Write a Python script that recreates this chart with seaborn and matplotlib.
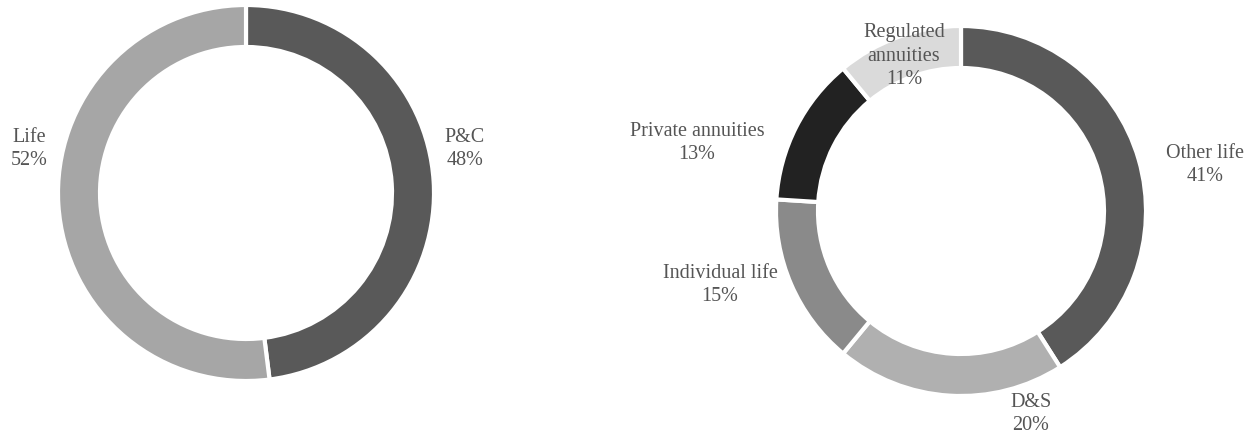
import matplotlib
matplotlib.use("Agg")
import matplotlib.pyplot as plt
import seaborn as sns

# Premium split: P&C vs Life
split_labels = ["P&C", "Life"]
split_values = [48, 52]
split_colors = ["#595959", "#a6a6a6"]

# Breakdown of the life business
life_labels = ["Other life", "D&S", "Individual life", "Private annuities", "Regulated\nannuities"]
life_values = [41, 20, 15, 13, 11]
life_colors = ["#595959", "#b0b0b0", "#8a8a8a", "#222222", "#dadada"]

sns.set_theme(style="white")
plt.rcParams["font.family"] = ["Liberation Serif", "DejaVu Serif"]

W, H = 1257, 440
fig = plt.figure(figsize=(W / 100, H / 100), dpi=100)
ax = fig.add_axes([0, 0, 1, 1])

ring = dict(width=42, edgecolor="white", linewidth=3)

ax.pie(split_values, colors=split_colors, startangle=90, counterclock=False,
       radius=188, center=(246, H - 193), wedgeprops=ring)
ax.pie(life_values, colors=life_colors, startangle=90, counterclock=False,
       radius=185, center=(961, H - 211), wedgeprops=ring)

txt = dict(ha="center", va="center", color="#555555", fontsize=14.5, linespacing=1.3)

# label anchors (x, y from top)
split_pos = [(465, 149), (29, 149)]
life_pos = [(1205, 165), (1031, 414), (720, 285), (697, 143), (904, 56)]

for lab, val, (x, y) in zip(split_labels, split_values, split_pos):
    ax.text(x, H - y, f"{lab}\n{val}%", **txt)
for lab, val, (x, y) in zip(life_labels, life_values, life_pos):
    ax.text(x, H - y, f"{lab}\n{val}%", **txt)

ax.set_xlim(0, W)
ax.set_ylim(0, H)
ax.set_aspect("equal")
ax.axis("off")

fig.savefig("out.png", dpi=100, facecolor="white")
